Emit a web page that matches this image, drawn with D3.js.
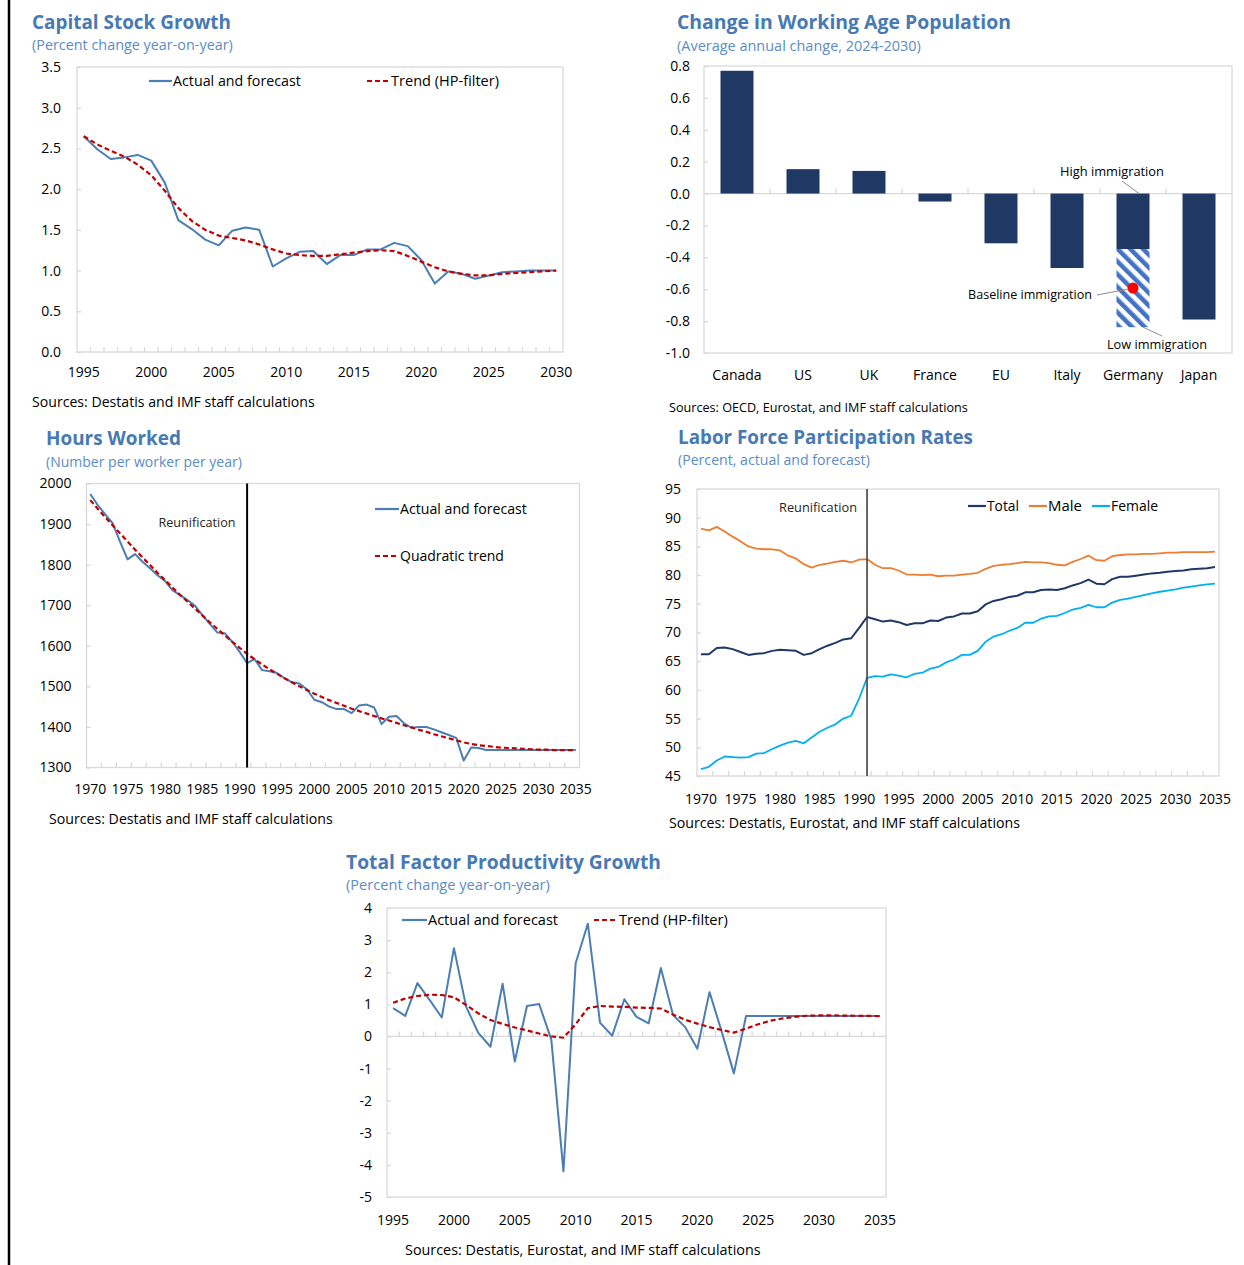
<!DOCTYPE html>
<html>
<head>
<meta charset="utf-8">
<script src="https://cdn.jsdelivr.net/npm/d3@7"></script>
<style>
  body { margin: 0; background: #fff; }
  svg text { font-family: "Open Sans", "Noto Sans", sans-serif; }
</style>
</head>
<body>
<svg id="chart" width="1244" height="1265"></svg>
<script>
// ---------- data ----------
// Capital stock growth, percent y/y, 1995-2030
const capYears = d3.range(1995, 2031);
const capActual = [2.65, 2.49, 2.37, 2.39, 2.42, 2.35, 2.08, 1.62, 1.51, 1.38,
                   1.31, 1.49, 1.53, 1.50, 1.05, 1.15, 1.23, 1.24, 1.08, 1.19,
                   1.19, 1.26, 1.26, 1.34, 1.30, 1.13, 0.84, 0.99, 0.96, 0.90,
                   0.94, 0.98, 0.99, 1.00, 1.00, 1.00];
const capTrend = [2.65, 2.55, 2.47, 2.40, 2.30, 2.17, 1.98, 1.77, 1.61, 1.50,
                  1.43, 1.40, 1.37, 1.32, 1.26, 1.21, 1.19, 1.18, 1.18, 1.20,
                  1.22, 1.24, 1.25, 1.24, 1.18, 1.11, 1.04, 0.99, 0.96, 0.94,
                  0.94, 0.96, 0.97, 0.98, 0.99, 1.00];
const capYTicks = [0, 0.5, 1.0, 1.5, 2.0, 2.5, 3.0, 3.5];
const capXLabels = [1995, 2000, 2005, 2010, 2015, 2020, 2025, 2030];

// Working age population, average annual change 2024-2030
const popCountries = ["Canada", "US", "UK", "France", "EU", "Italy", "Germany", "Japan"];
const popChange = [0.77, 0.153, 0.142, -0.05, -0.312, -0.467, -0.348, -0.79];
const germanyLowImmigration = -0.838;
const germanyBaselineImmigration = -0.593;
const popYTicks = [-1.0, -0.8, -0.6, -0.4, -0.2, 0.0, 0.2, 0.4, 0.6, 0.8];

// Hours worked per worker per year, 1970-2035
const hoursYears = d3.range(1970, 2036);
const hoursActual = [1974, 1947, 1924, 1902, 1856, 1813, 1826, 1807, 1791, 1774,
                     1760, 1737, 1725, 1713, 1699, 1676, 1654, 1633, 1631, 1610,
                     1585, 1557, 1567, 1540, 1537, 1533, 1520, 1510, 1507, 1493,
                     1467, 1461, 1450, 1444, 1444, 1434, 1453, 1455, 1448, 1407,
                     1425, 1427, 1409, 1398, 1400, 1400, 1394, 1387, 1380, 1373,
                     1317, 1349, 1348, 1343, 1343, 1343, 1343, 1343, 1343, 1343,
                     1343, 1343, 1343, 1343, 1343, 1343];
const hoursTrend = [1959, 1938, 1917, 1897, 1877, 1857, 1837, 1818, 1799, 1780,
                    1762, 1744, 1726, 1709, 1692, 1675, 1658, 1642, 1626, 1610,
                    1595, 1580, 1567, 1554, 1542, 1531, 1520, 1510, 1500, 1491,
                    1482, 1474, 1466, 1459, 1452, 1445, 1439, 1433, 1427, 1421,
                    1416, 1410, 1404, 1399, 1393, 1388, 1382, 1377, 1372, 1367,
                    1362, 1358, 1355, 1353, 1351, 1349, 1348, 1347, 1346, 1345,
                    1344, 1344, 1343, 1343, 1343, 1343];
const hoursYTicks = [1300, 1400, 1500, 1600, 1700, 1800, 1900, 2000];
const yearLabels7035 = [1970, 1975, 1980, 1985, 1990, 1995, 2000, 2005, 2010, 2015, 2020, 2025, 2030, 2035];
const reunificationYear = 1991;

// Labor force participation rates, percent, 1970-2035
const lfpTotal = [66.2, 66.2, 67.3, 67.4, 67.1, 66.6, 66.1, 66.3, 66.4, 66.8,
                  67.0, 66.9, 66.8, 66.1, 66.4, 67.1, 67.7, 68.2, 68.8, 69.0,
                  70.8, 72.7, 72.3, 71.9, 72.1, 71.8, 71.3, 71.6, 71.6, 72.1,
                  72.0, 72.6, 72.8, 73.3, 73.3, 73.7, 74.9, 75.5, 75.8, 76.2,
                  76.4, 77.0, 77.0, 77.4, 77.5, 77.4, 77.7, 78.2, 78.6, 79.2,
                  78.5, 78.4, 79.3, 79.7, 79.7, 79.9, 80.1, 80.3, 80.4, 80.6,
                  80.7, 80.8, 81.0, 81.1, 81.2, 81.4];
const lfpMale = [88.1, 87.8, 88.4, 87.6, 86.7, 85.9, 85.0, 84.6, 84.5, 84.5,
                 84.3, 83.4, 82.9, 81.9, 81.3, 81.8, 82.0, 82.3, 82.5, 82.2,
                 82.7, 82.8, 81.8, 81.2, 81.2, 80.8, 80.1, 80.1, 80.0, 80.1,
                 79.8, 79.9, 79.9, 80.1, 80.2, 80.4, 81.1, 81.6, 81.8, 81.9,
                 82.1, 82.3, 82.2, 82.2, 82.1, 81.8, 81.7, 82.3, 82.8, 83.4,
                 82.6, 82.5, 83.3, 83.5, 83.6, 83.6, 83.7, 83.7, 83.8, 83.9,
                 83.9, 84.0, 84.0, 84.0, 84.0, 84.1];
const lfpFemale = [46.2, 46.6, 47.7, 48.4, 48.3, 48.2, 48.3, 48.9, 49.0, 49.7,
                   50.3, 50.8, 51.1, 50.7, 51.7, 52.7, 53.4, 54.0, 55.0, 55.5,
                   58.5, 62.1, 62.4, 62.3, 62.7, 62.5, 62.2, 62.8, 63.0, 63.7,
                   64.0, 64.8, 65.3, 66.1, 66.1, 66.8, 68.4, 69.3, 69.7, 70.3,
                   70.8, 71.7, 71.7, 72.4, 72.8, 72.9, 73.4, 74.0, 74.3, 74.8,
                   74.4, 74.4, 75.2, 75.7, 75.9, 76.2, 76.5, 76.8, 77.1, 77.3,
                   77.5, 77.8, 78.0, 78.2, 78.4, 78.5];
const lfpYTicks = [45, 50, 55, 60, 65, 70, 75, 80, 85, 90, 95];

// Total factor productivity growth, percent y/y, 1995-2035
const tfpYears = d3.range(1995, 2036);
const tfpActual = [0.88, 0.64, 1.66, 1.14, 0.59, 2.75, 0.93, 0.11, -0.32, 1.64,
                   -0.78, 0.95, 1.01, -0.10, -4.20, 2.28, 3.51, 0.43, 0.02, 1.16,
                   0.61, 0.41, 2.13, 0.67, 0.29, -0.38, 1.38, 0.15, -1.15, 0.635,
                   0.635, 0.635, 0.635, 0.635, 0.635, 0.635, 0.635, 0.635, 0.635, 0.635,
                   0.635];
const tfpTrend = [1.05, 1.18, 1.26, 1.30, 1.29, 1.22, 0.98, 0.72, 0.51, 0.39,
                  0.28, 0.19, 0.09, 0.00, -0.04, 0.38, 0.88, 0.95, 0.93, 0.92,
                  0.90, 0.89, 0.87, 0.68, 0.52, 0.40, 0.29, 0.20, 0.12, 0.24,
                  0.38, 0.49, 0.56, 0.61, 0.645, 0.655, 0.655, 0.65, 0.645, 0.64,
                  0.635];
const tfpYTicks = [-5, -4, -3, -2, -1, 0, 1, 2, 3, 4];
const tfpXLabels = [1995, 2000, 2005, 2010, 2015, 2020, 2025, 2030, 2035];

// ---------- styling ----------
const TITLE_C = "#4779B4";
const SUB_C = "#5B8CC6";
const BLUE = "#4A7EB4";
const RED = "#C00000";
const NAVY = "#1F3864";
const ORANGE = "#ED7D31";
const CYAN = "#00B0F0";
const FRAME = "#D9D9D9";
const TXT = "#000000";
const FS = 14;

const svg = d3.select("#chart");

// scale a text's font size so that it spans the given width
function fitWidth(sel, w) {
  sel.each(function () {
    const fs = parseFloat(this.getAttribute("font-size"));
    const len = this.getComputedTextLength();
    if (len > 0) this.setAttribute("font-size", (fs * w / len).toFixed(2));
  });
  return sel;
}

function text(x, y, str, o = {}) {
  const t = svg.append("text")
    .attr("x", x).attr("y", y).attr("dy", "0.35em")
    .attr("font-size", o.size || FS)
    .attr("font-weight", o.weight || 400)
    .attr("fill", o.color || TXT)
    .attr("text-anchor", o.anchor || "start")
    .text(str);
  if (o.width) fitWidth(t, o.width);
  return t;
}

function heading(x, yT, yS, title, tw, sub, sw) {
  text(x, yT, title, { size: 20, weight: 700, color: TITLE_C, width: tw });
  text(x, yS, sub, { size: 14, color: SUB_C, width: sw });
}

function legendLine(x1, x2, y, color, dash, label, lw) {
  svg.append("line").attr("x1", x1).attr("x2", x2).attr("y1", y).attr("y2", y)
    .attr("stroke", color).attr("stroke-width", 2.2)
    .attr("stroke-dasharray", dash || null);
  text(x2 + 1, y, label, { width: lw });
}

function styleAxis(g, fs) {
  g.select(".domain").remove();
  g.selectAll(".tick line").attr("stroke", FRAME).attr("stroke-width", 1.3);
  g.selectAll(".tick text")
    .attr("font-family", "'Open Sans','Noto Sans',sans-serif")
    .attr("font-size", fs).attr("fill", TXT);
}

// generic category-axis line chart
function linePanel(c) {
  const [L, R, T, B] = c.box;
  const x = d3.scaleBand().domain(c.years).range([L, R]).padding(0);
  const y = d3.scaleLinear().domain(c.yDomain).range([B, T]);
  const bw = x.bandwidth();
  const g = svg.append("g");

  g.append("rect").attr("x", L).attr("y", T).attr("width", R - L).attr("height", B - T)
    .attr("fill", "none").attr("stroke", FRAME).attr("stroke-width", 1.3);

  const ya = g.append("g").attr("transform", `translate(${L},0)`)
    .call(d3.axisLeft(y).tickValues(c.yTicks).tickFormat(c.yFmt).tickSize(-4).tickPadding(c.yPad));
  styleAxis(ya, FS);

  const axisY = y(c.axisAt);
  if (c.axisAt !== c.yDomain[0]) {
    g.append("line").attr("x1", L).attr("x2", R).attr("y1", axisY).attr("y2", axisY)
      .attr("stroke", FRAME).attr("stroke-width", 1.3);
  }
  g.selectAll(null).data(c.tickBounds).join("line")
    .attr("x1", i => L + i * bw).attr("x2", i => L + i * bw)
    .attr("y1", axisY).attr("y2", axisY - 5)
    .attr("stroke", FRAME).attr("stroke-width", 1.3);

  const xa = g.append("g").attr("transform", `translate(0,${B})`)
    .call(d3.axisBottom(x).tickValues(c.xLabels).tickSize(0).tickPadding(c.xPad));
  styleAxis(xa, FS);

  const line = d3.line().x((d, i) => x(c.years[i]) + bw / 2).y(d => y(d));
  c.series.forEach(s => {
    g.append("path").datum(s.values).attr("d", line)
      .attr("fill", "none").attr("stroke", s.color).attr("stroke-width", s.width)
      .attr("stroke-linejoin", "round")
      .attr("stroke-dasharray", s.dash || null);
  });
  return { x, y, bw, g, L, R, T, B };
}

// left page rule
svg.append("line").attr("x1", 9).attr("x2", 9).attr("y1", 0).attr("y2", 1265)
  .attr("stroke", "#000").attr("stroke-width", 2.5);

// ---------- Capital Stock Growth ----------
heading(32, 22, 45, "Capital Stock Growth", 199, "(Percent change year-on-year)", 201);
linePanel({
  years: capYears, box: [77, 563, 67, 352], yDomain: [0, 3.5], yTicks: capYTicks,
  yFmt: d => d.toFixed(1), yPad: 16, axisAt: 0, tickBounds: d3.range(1, 36),
  xLabels: capXLabels, xPad: 15,
  series: [
    { values: capActual, color: BLUE, width: 2 },
    { values: capTrend, color: RED, width: 2.2, dash: "5,3" }
  ]
});
legendLine(149, 172, 81, BLUE, null, "Actual and forecast", 128);
legendLine(367, 390, 81, RED, "5,3", "Trend (HP-filter)", 108);
text(32, 402, "Sources: Destatis and IMF staff calculations", { width: 283 });

// ---------- Change in Working Age Population ----------
heading(677, 22, 46, "Change in Working Age Population", 334, "(Average annual change, 2024-2030)", 244);
{
  const [L, R, T, B] = [704, 1232, 66, 353];
  const x = d3.scaleBand().domain(popCountries).range([L, R]).padding(0);
  const y = d3.scaleLinear().domain([-1.0, 0.8]).range([B, T]);
  const bw = x.bandwidth();
  const g = svg.append("g");

  const defs = svg.append("defs");
  const pat = defs.append("pattern").attr("id", "hatch")
    .attr("patternUnits", "userSpaceOnUse").attr("width", 9).attr("height", 9)
    .attr("patternTransform", "rotate(-45)");
  pat.append("rect").attr("width", 9).attr("height", 9).attr("fill", "#fff");
  pat.append("rect").attr("x", 0).attr("width", 4.5).attr("height", 9).attr("fill", "#4472C4");

  g.append("rect").attr("x", L).attr("y", T).attr("width", R - L).attr("height", B - T)
    .attr("fill", "none").attr("stroke", FRAME).attr("stroke-width", 1.3);
  const ya = g.append("g").attr("transform", `translate(${L},0)`)
    .call(d3.axisLeft(y).tickValues(popYTicks).tickFormat(d => d.toFixed(1)).tickSize(-4).tickPadding(14));
  styleAxis(ya, FS);

  const y0 = y(0);
  g.append("line").attr("x1", L).attr("x2", R).attr("y1", y0).attr("y2", y0)
    .attr("stroke", FRAME).attr("stroke-width", 1.3);
  g.selectAll(null).data(d3.range(1, popCountries.length)).join("line")
    .attr("x1", i => L + i * bw).attr("x2", i => L + i * bw)
    .attr("y1", y0).attr("y2", y0 - 5)
    .attr("stroke", FRAME).attr("stroke-width", 1.3);

  const gx = x("Germany") + bw / 2;
  // low-immigration range below the Germany bar
  g.append("rect").attr("x", x("Germany") + bw * 0.25).attr("width", bw * 0.5)
    .attr("y", y(popChange[6])).attr("height", y(germanyLowImmigration) - y(popChange[6]))
    .attr("fill", "url(#hatch)");

  g.selectAll(".bar").data(popCountries).join("rect").attr("class", "bar")
    .attr("x", d => x(d) + bw * 0.25).attr("width", bw * 0.5)
    .attr("y", (d, i) => y(Math.max(0, popChange[i])))
    .attr("height", (d, i) => Math.abs(y(popChange[i]) - y0))
    .attr("fill", NAVY);

  g.append("circle").attr("cx", gx).attr("cy", y(germanyBaselineImmigration)).attr("r", 5.5)
    .attr("fill", "#FF0000");

  const xa = g.append("g").attr("transform", `translate(0,${B})`)
    .call(d3.axisBottom(x).tickSize(0).tickPadding(17));
  styleAxis(xa, FS);

  // annotations
  const lead = (x1, y1, x2, y2) => g.append("line").attr("x1", x1).attr("y1", y1)
    .attr("x2", x2).attr("y2", y2).attr("stroke", "#8C8C8C").attr("stroke-width", 1);
  lead(1122, 181, gx + 6, y0);
  lead(1097, 295, gx - 5, y(germanyBaselineImmigration) + 1);
  lead(gx + 10, y(germanyLowImmigration), 1162, 336);
  text(1112, 172, "High immigration", { size: 13, anchor: "middle", width: 104 });
  text(1092, 295, "Baseline immigration", { size: 13, anchor: "end", width: 124 });
  text(1157, 345, "Low immigration", { size: 13, anchor: "middle", width: 100 });
}
text(669, 408, "Sources: OECD, Eurostat, and IMF staff calculations", { size: 13, width: 299 });

// ---------- Hours Worked ----------
heading(46, 438, 462, "Hours Worked", 135, "(Number per worker per year)", 196);
{
  const p = linePanel({
    years: hoursYears, box: [86.5, 579.5, 483.5, 767.5], yDomain: [1300, 2000], yTicks: hoursYTicks,
    yFmt: d => String(d), yPad: 15, axisAt: 1300, tickBounds: d3.range(2, 66, 2),
    xLabels: yearLabels7035, xPad: 17,
    series: [
      { values: hoursActual, color: BLUE, width: 2 },
      { values: hoursTrend, color: RED, width: 2.2, dash: "5,3" }
    ]
  });
  const rx = p.x(reunificationYear) + p.bw / 2;
  svg.append("line").attr("x1", rx).attr("x2", rx).attr("y1", p.T).attr("y2", p.B)
    .attr("stroke", "#000").attr("stroke-width", 2);
  text(197, 523, "Reunification", { size: 13, anchor: "middle", color: "#262626", width: 77 });
}
legendLine(375, 399, 509, BLUE, null, "Actual and forecast", 127);
legendLine(375, 399, 556, RED, "5,3", "Quadratic trend", 104);
text(49, 819, "Sources: Destatis and IMF staff calculations", { width: 284 });

// ---------- Labor Force Participation Rates ----------
heading(678, 437, 460, "Labor Force Participation Rates", 295, "(Percent, actual and forecast)", 192);
{
  const p = linePanel({
    years: hoursYears, box: [697, 1219, 489, 776], yDomain: [45, 95], yTicks: lfpYTicks,
    yFmt: d => String(d), yPad: 16, axisAt: 45, tickBounds: d3.range(2, 66, 2),
    xLabels: yearLabels7035, xPad: 18,
    series: [
      { values: lfpMale, color: ORANGE, width: 1.8 },
      { values: lfpFemale, color: CYAN, width: 1.8 },
      { values: lfpTotal, color: NAVY, width: 2 }
    ]
  });
  const rx = p.x(reunificationYear) + p.bw / 2;
  svg.append("line").attr("x1", rx).attr("x2", rx).attr("y1", p.T).attr("y2", p.B)
    .attr("stroke", "#404040").attr("stroke-width", 1.6);
  text(818, 508, "Reunification", { size: 13, anchor: "middle", color: "#262626", width: 78 });
}
legendLine(968, 986, 506, NAVY, null, "Total", 32);
legendLine(1029, 1047, 506, ORANGE, null, "Male", 34);
legendLine(1092, 1110, 506, CYAN, null, "Female", 47);
text(669, 823, "Sources: Destatis, Eurostat, and IMF staff calculations", { width: 351 });

// ---------- Total Factor Productivity Growth ----------
heading(346, 862, 885, "Total Factor Productivity Growth", 315, "(Percent change year-on-year)", 204);
linePanel({
  years: tfpYears, box: [387, 886, 908, 1197], yDomain: [-5, 4], yTicks: tfpYTicks,
  yFmt: d => String(d), yPad: 15, axisAt: 0, tickBounds: d3.range(1, 41),
  xLabels: tfpXLabels, xPad: 18,
  series: [
    { values: tfpActual, color: BLUE, width: 2 },
    { values: tfpTrend, color: RED, width: 2.2, dash: "5,3" }
  ]
});
legendLine(402, 427, 920, BLUE, null, "Actual and forecast", 130);
legendLine(594, 618, 920, RED, "5,3", "Trend (HP-filter)", 109);
text(405, 1250, "Sources: Destatis, Eurostat, and IMF staff calculations", { width: 356 });
</script>
</body>
</html>
